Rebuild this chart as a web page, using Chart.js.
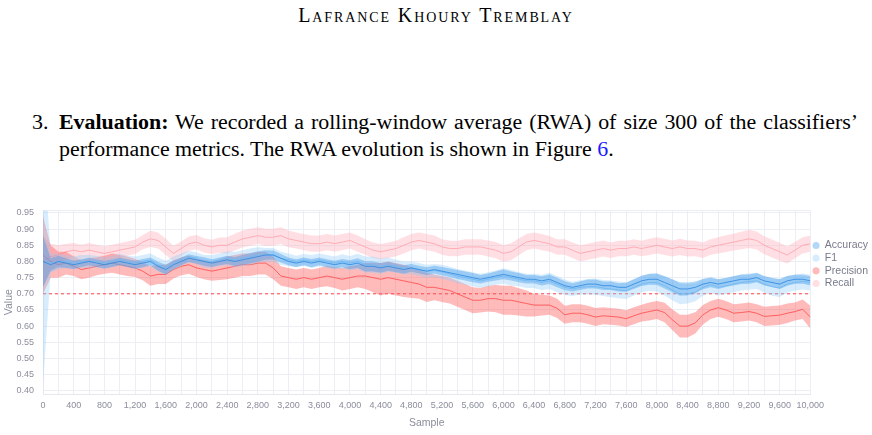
<!DOCTYPE html>
<html>
<head>
<meta charset="utf-8">
<script src="https://cdn.jsdelivr.net/npm/chart.js@4.4.0/dist/chart.umd.min.js"></script>
<style>
  body { margin: 0; width: 872px; height: 435px; background: #fff; overflow: hidden; position: relative;
         font-family: "Liberation Serif", "Times New Roman", serif; color: #000; }
  #header { position: absolute; top: 3px; left: 0; width: 872px; text-align: center;
            font-size: 20px; line-height: 24px; letter-spacing: 1.9px; font-variant: small-caps; }
  .para { position: absolute; font-size: 21.9px; line-height: 26px; white-space: nowrap; }
  #num { left: 32px; top: 109px; }
  #line1 { left: 59px; top: 109px; width: 799px; white-space: normal; text-align: justify; text-align-last: justify; }
  #line2 { left: 59px; top: 136px; }
  .ref { color: #1a1aff; }
  #wrap { position: absolute; left: 0; top: 196px; width: 872px; height: 239px; }
</style>
</head>
<body>
<div id="header">Lafrance Khoury Tremblay</div>
<div class="para" id="num">3.</div>
<div class="para" id="line1"><b>Evaluation:</b> We recorded a rolling-window average (RWA) of size 300 of the classifiers’</div>
<div class="para" id="line2">performance metrics. The RWA evolution is shown in Figure <span class="ref">6</span>.</div>
<div id="wrap"><canvas id="rwa_chart"></canvas></div>
<script>
// sample index of every point (every 100 samples)
const samples = Array.from({ length: 101 }, (_, i) => i * 100)
const yTicks = [0.39, 0.40, 0.45, 0.50, 0.55, 0.60, 0.65, 0.70, 0.75, 0.80, 0.85, 0.90, 0.95, 0.958]
const threshold = 0.70

const accuracy = [
  0.80, 0.79, 0.80, 0.795, 0.79, 0.795, 0.80, 0.795, 0.79, 0.795,
  0.80, 0.795, 0.79, 0.795, 0.80, 0.785, 0.775, 0.79, 0.80, 0.81,
  0.805, 0.80, 0.795, 0.80, 0.805, 0.80, 0.805, 0.81, 0.815, 0.82,
  0.82, 0.81, 0.80, 0.795, 0.80, 0.795, 0.80, 0.795, 0.79, 0.795,
  0.79, 0.795, 0.785, 0.785, 0.78, 0.785, 0.78, 0.775, 0.78, 0.775,
  0.77, 0.775, 0.77, 0.765, 0.76, 0.755, 0.75, 0.745, 0.75, 0.755,
  0.76, 0.755, 0.75, 0.745, 0.745, 0.74, 0.745, 0.735, 0.725, 0.72,
  0.725, 0.73, 0.73, 0.725, 0.725, 0.72, 0.72, 0.73, 0.74, 0.745,
  0.745, 0.735, 0.725, 0.715, 0.715, 0.72, 0.73, 0.735, 0.73, 0.735,
  0.74, 0.745, 0.745, 0.75, 0.74, 0.735, 0.73, 0.74, 0.745, 0.745,
  0.74
]
const accuracySpread = [
  0.08, 0.02, 0.018, 0.015, 0.013, 0.012, 0.012, 0.012, 0.012, 0.012,
  0.012, 0.012, 0.012, 0.013, 0.012, 0.014, 0.015, 0.013, 0.012, 0.012,
  0.012, 0.013, 0.012, 0.012, 0.013, 0.014, 0.015, 0.016, 0.016, 0.015,
  0.014, 0.013, 0.012, 0.012, 0.012, 0.013, 0.012, 0.012, 0.012, 0.013,
  0.014, 0.015, 0.016, 0.016, 0.015, 0.014, 0.013, 0.013, 0.012, 0.012,
  0.012, 0.012, 0.013, 0.013, 0.014, 0.014, 0.014, 0.013, 0.013, 0.014,
  0.015, 0.014, 0.014, 0.013, 0.013, 0.014, 0.015, 0.015, 0.014, 0.013,
  0.013, 0.014, 0.014, 0.013, 0.013, 0.013, 0.014, 0.015, 0.016, 0.017,
  0.018, 0.019, 0.02, 0.021, 0.02, 0.018, 0.016, 0.015, 0.015, 0.014,
  0.014, 0.015, 0.015, 0.014, 0.014, 0.014, 0.015, 0.015, 0.014, 0.014,
  0.014
]

const f1 = [
  0.80, 0.795, 0.80, 0.80, 0.795, 0.80, 0.80, 0.80, 0.795, 0.80,
  0.805, 0.80, 0.795, 0.80, 0.805, 0.79, 0.78, 0.795, 0.805, 0.815,
  0.81, 0.80, 0.80, 0.805, 0.81, 0.805, 0.81, 0.815, 0.82, 0.82,
  0.82, 0.81, 0.805, 0.80, 0.805, 0.80, 0.805, 0.80, 0.795, 0.80,
  0.795, 0.80, 0.79, 0.79, 0.785, 0.79, 0.785, 0.78, 0.78, 0.775,
  0.77, 0.772, 0.768, 0.762, 0.755, 0.75, 0.745, 0.74, 0.745, 0.75,
  0.755, 0.75, 0.745, 0.74, 0.74, 0.735, 0.74, 0.73, 0.72, 0.715,
  0.72, 0.722, 0.722, 0.718, 0.715, 0.712, 0.71, 0.72, 0.73, 0.735,
  0.735, 0.725, 0.712, 0.70, 0.70, 0.705, 0.72, 0.728, 0.72, 0.725,
  0.73, 0.735, 0.738, 0.74, 0.73, 0.722, 0.718, 0.73, 0.735, 0.738,
  0.735
]
const f1Spread = [
  0.38, 0.03, 0.025, 0.02, 0.02, 0.02, 0.02, 0.018, 0.018, 0.018,
  0.018, 0.018, 0.02, 0.02, 0.02, 0.022, 0.022, 0.02, 0.02, 0.018,
  0.018, 0.02, 0.02, 0.02, 0.022, 0.024, 0.025, 0.025, 0.024, 0.022,
  0.022, 0.02, 0.02, 0.018, 0.018, 0.02, 0.02, 0.02, 0.02, 0.022,
  0.022, 0.024, 0.025, 0.025, 0.024, 0.022, 0.02, 0.02, 0.02, 0.02,
  0.02, 0.02, 0.022, 0.022, 0.022, 0.022, 0.022, 0.022, 0.022, 0.022,
  0.024, 0.024, 0.022, 0.022, 0.022, 0.024, 0.025, 0.025, 0.024, 0.022,
  0.022, 0.024, 0.025, 0.025, 0.026, 0.026, 0.026, 0.025, 0.025, 0.026,
  0.028, 0.03, 0.032, 0.032, 0.03, 0.028, 0.026, 0.025, 0.025, 0.025,
  0.025, 0.025, 0.025, 0.025, 0.026, 0.028, 0.028, 0.026, 0.025, 0.025,
  0.025
]

const precision = [
  0.82, 0.80, 0.79, 0.795, 0.785, 0.775, 0.78, 0.785, 0.79, 0.795,
  0.79, 0.785, 0.78, 0.77, 0.755, 0.76, 0.76, 0.775, 0.785, 0.79,
  0.78, 0.775, 0.77, 0.775, 0.78, 0.785, 0.79, 0.79, 0.795, 0.795,
  0.78, 0.755, 0.75, 0.745, 0.75, 0.745, 0.75, 0.755, 0.75, 0.745,
  0.75, 0.755, 0.755, 0.75, 0.745, 0.75, 0.745, 0.74, 0.735, 0.73,
  0.72, 0.72, 0.715, 0.71, 0.70, 0.69, 0.68, 0.68, 0.685, 0.685,
  0.68, 0.68, 0.675, 0.67, 0.665, 0.665, 0.665, 0.655, 0.635, 0.64,
  0.64, 0.635, 0.628, 0.632, 0.63, 0.628, 0.623, 0.632, 0.64, 0.645,
  0.65, 0.642, 0.62, 0.60, 0.60, 0.61, 0.635, 0.65, 0.657, 0.65,
  0.64, 0.642, 0.645, 0.64, 0.63, 0.632, 0.634, 0.64, 0.645, 0.652,
  0.628
]
const precisionSpread = [
  0.12, 0.05, 0.04, 0.035, 0.03, 0.03, 0.03, 0.028, 0.028, 0.03,
  0.03, 0.03, 0.028, 0.028, 0.03, 0.03, 0.03, 0.028, 0.028, 0.028,
  0.028, 0.03, 0.03, 0.032, 0.035, 0.035, 0.035, 0.035, 0.035, 0.035,
  0.035, 0.03, 0.03, 0.03, 0.03, 0.03, 0.03, 0.032, 0.032, 0.035,
  0.035, 0.035, 0.04, 0.045, 0.05, 0.05, 0.05, 0.05, 0.048, 0.045,
  0.045, 0.04, 0.04, 0.04, 0.04, 0.04, 0.04, 0.038, 0.04, 0.042,
  0.045, 0.045, 0.042, 0.04, 0.035, 0.032, 0.03, 0.03, 0.028, 0.028,
  0.028, 0.028, 0.028, 0.026, 0.026, 0.026, 0.026, 0.026, 0.026, 0.028,
  0.028, 0.03, 0.032, 0.035, 0.035, 0.033, 0.03, 0.028, 0.028, 0.028,
  0.028, 0.028, 0.028, 0.028, 0.03, 0.03, 0.03, 0.03, 0.028, 0.03,
  0.035
]

const recall = [
  0.80, 0.815, 0.82, 0.83, 0.835, 0.83, 0.835, 0.83, 0.825, 0.83,
  0.835, 0.84, 0.845, 0.86, 0.87, 0.865, 0.845, 0.825, 0.84, 0.855,
  0.86, 0.85, 0.845, 0.85, 0.85, 0.86, 0.87, 0.875, 0.88, 0.875,
  0.875, 0.88, 0.87, 0.865, 0.86, 0.855, 0.855, 0.86, 0.855, 0.86,
  0.865, 0.855, 0.845, 0.835, 0.83, 0.835, 0.84, 0.85, 0.86, 0.865,
  0.86, 0.855, 0.845, 0.84, 0.84, 0.845, 0.845, 0.845, 0.84, 0.835,
  0.825, 0.83, 0.845, 0.86, 0.865, 0.86, 0.855, 0.845, 0.845, 0.835,
  0.825, 0.83, 0.835, 0.84, 0.835, 0.84, 0.84, 0.845, 0.84, 0.845,
  0.85, 0.845, 0.84, 0.845, 0.84, 0.84, 0.835, 0.845, 0.85, 0.855,
  0.86, 0.865, 0.87, 0.865, 0.85, 0.84, 0.83, 0.82, 0.835, 0.85,
  0.855
]
const recallSpread = [
  0.08, 0.04, 0.03, 0.025, 0.022, 0.022, 0.022, 0.022, 0.022, 0.022,
  0.022, 0.022, 0.022, 0.022, 0.025, 0.025, 0.025, 0.024, 0.022, 0.022,
  0.022, 0.022, 0.022, 0.024, 0.025, 0.026, 0.026, 0.026, 0.026, 0.026,
  0.026, 0.026, 0.026, 0.025, 0.025, 0.025, 0.025, 0.025, 0.025, 0.025,
  0.025, 0.025, 0.024, 0.024, 0.024, 0.024, 0.024, 0.025, 0.025, 0.025,
  0.025, 0.025, 0.024, 0.024, 0.024, 0.024, 0.024, 0.024, 0.025, 0.025,
  0.026, 0.026, 0.026, 0.025, 0.025, 0.025, 0.024, 0.024, 0.024, 0.024,
  0.025, 0.025, 0.025, 0.025, 0.024, 0.024, 0.024, 0.024, 0.024, 0.025,
  0.025, 0.025, 0.025, 0.025, 0.025, 0.024, 0.024, 0.024, 0.025, 0.026,
  0.026, 0.027, 0.028, 0.028, 0.028, 0.028, 0.028, 0.026, 0.025, 0.025,
  0.025
]

const metricNames = ['Accuracy', 'F1', 'Precision', 'Recall']

Chart.defaults.font.family = '"Liberation Sans", Arial, sans-serif'
Chart.defaults.color = '#8a8d9c'

const pts = arr => arr.map((v, i) => ({ x: samples[i], y: v }))

// three datasets per metric: lower edge, upper edge (filled down to lower), mean line
function metric(label, mean, spread, line, fill) {
    const lower = mean.map((v, i) => v - spread[i])
    const upper = mean.map((v, i) => v + spread[i])
    return [
        { label: label + ' lower', data: pts(lower), borderWidth: 0, pointRadius: 0, fill: false },
        { label: label + ' upper', data: pts(upper), borderWidth: 0, pointRadius: 0, fill: '-1', backgroundColor: fill },
        { label: label, data: pts(mean), borderColor: line, backgroundColor: fill, borderWidth: 1, pointRadius: 0, fill: false }
    ]
}

const datasets = [
    ...metric('Accuracy', accuracy, accuracySpread, 'rgba(50,135,220,0.9)', 'rgba(54,150,235,0.38)'),
    ...metric('F1', f1, f1Spread, 'rgba(150,205,245,0.9)', 'rgba(150,205,248,0.38)'),
    ...metric('Precision', precision, precisionSpread, 'rgba(255,70,70,0.85)', 'rgba(255,90,90,0.42)'),
    ...metric('Recall', recall, recallSpread, 'rgba(255,160,170,0.9)', 'rgba(255,175,185,0.4)'),
    {
        label: 'threshold',
        data: [{ x: samples[0], y: threshold }, { x: samples[samples.length - 1], y: threshold }],
        borderColor: 'rgba(255,50,50,0.9)', borderDash: [3, 3], borderWidth: 1, pointRadius: 0, fill: false
    }
]

new Chart(document.querySelector('#rwa_chart'), {
    type: 'line',
    data: { datasets: datasets },
    options: {
        responsive: true,
        maintainAspectRatio: false,
        animation: false,
        layout: { padding: { top: 14, right: -6, bottom: 0, left: 2 } },
        plugins: {
            tooltip: { enabled: false },
            legend: {
                position: 'right',
                align: 'start',
                title: { display: true, text: '', padding: { top: 16, bottom: 0 }, font: { size: 10 } },
                labels: {
                    usePointStyle: true,
                    pointStyle: 'circle',
                    boxWidth: 7,
                    boxHeight: 5,
                    padding: 2.2,
                    color: '#777a8a',
                    font: { size: 10.5 },
                    generateLabels: chart => Chart.defaults.plugins.legend.labels.generateLabels(chart)
                        .filter(item => metricNames.includes(item.text))
                        .map(item => ({ ...item, strokeStyle: item.fillStyle, lineWidth: 0 }))
                }
            }
        },
        scales: {
            x: {
                type: 'linear',
                min: 0,
                max: 10000,
                afterFit: axis => { axis.height = 41 },
                grid: { color: '#eceef5', drawTicks: false },
                border: { color: '#e6e8f0' },
                ticks: {
                    stepSize: 200,
                    autoSkip: false,
                    maxRotation: 0,
                    minRotation: 0,
                    padding: 6.6,
                    font: { size: 9 },
                    callback: v => v % 400 === 0 ? v.toLocaleString('en-US') : ''
                },
                title: { display: true, text: 'Sample', font: { size: 10.5 }, padding: { top: 0, bottom: 5.5 } }
            },
            y: {
                min: 0.39,
                max: 0.958,
                afterBuildTicks: axis => { axis.ticks = yTicks.map(v => ({ value: v })) },
                afterFit: axis => { axis.width = 41 },
                grid: { color: '#eceef5', drawTicks: false },
                border: { color: '#e6e8f0' },
                ticks: {
                    autoSkip: false,
                    padding: 9,
                    font: { size: 9 },
                    callback: v => (v >= 0.4 && v <= 0.95) ? v.toFixed(2) : ''
                },
                title: { display: true, text: 'Value', font: { size: 10.5 }, padding: { top: 1, bottom: 1 } }
            }
        }
    }
})
</script>
</body>
</html>
